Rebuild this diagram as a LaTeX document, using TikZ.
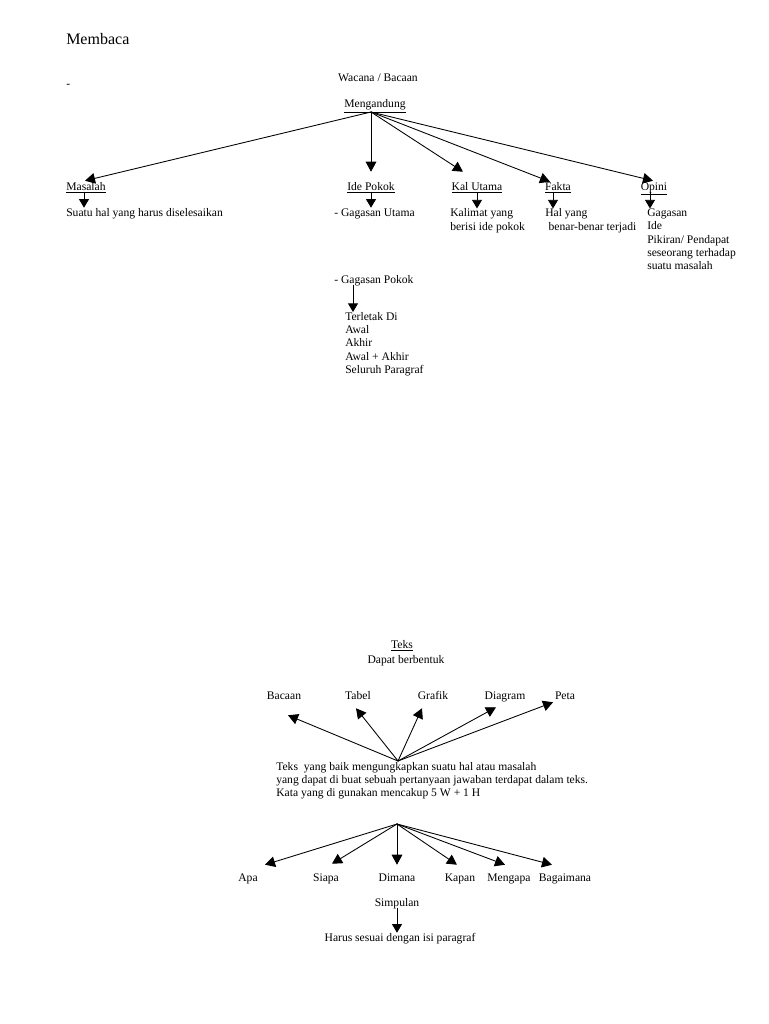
\documentclass[tikz,border=0pt]{standalone}
\usepackage{fontspec}
\setmainfont{Liberation Serif}
\usetikzlibrary{arrows.meta, positioning, calc}

\begin{document}
\begin{tikzpicture}[
    x=0.75pt, y=-0.75pt,
    line cap=round, line join=round,
    teks/.style={inner sep=0pt, font=\fontsize{8.7}{10}\selectfont, text height=6pt, text depth=1.5pt},
    blok/.style={inner sep=0pt, font=\fontsize{8.7}{10}\selectfont, align=left, anchor=north west},
    panah/.style={-{Triangle[length=7.5pt, width=8pt]}, line width=0.65pt},
    panahkecil/.style={-{Triangle[length=6.5pt, width=7.5pt]}, line width=0.65pt}
  ]
    \useasboundingbox (0,0) rectangle (768,1024);

    % Judul
    \node[teks, anchor=west, font=\fontsize{12}{14}\selectfont] (judul) at (66,42) {Membaca};
    \node[teks, anchor=west] (strip) at (66,85) {-};

    % Wacana (atas)
    \node[teks] (wacana) at (378,78) {Wacana / Bacaan};
    \node[teks] (mengandung) at (375,105) {\underline{Mengandung}};
    \coordinate (pusat) at (371,112);

    \node[teks] (masalah) at (86,187) {\underline{Masalah}};
    \node[teks] (idepokok) at (371,187) {\underline{Ide Pokok}};
    \node[teks] (kalutama) at (477,187) {\underline{Kal Utama}};
    \node[teks] (fakta) at (558,187) {\underline{Fakta}};
    \node[teks] (opini) at (654,187) {\underline{Opini}};

    \draw[panah] (pusat) -- ($(masalah.north)+(-1,-1)$);
    \draw[panah] (pusat) -- ($(idepokok.north)+(0,-10)$);
    \draw[panah] (pusat) -- ($(kalutama.north)+(-14,-10)$);
    \draw[panah] (pusat) -- ($(fakta.north)+(-8,-0)$);
    \draw[panah] (pusat) -- ($(opini.north)+(-1,-1)$);

    % Keterangan tiap cabang
    \node[teks, anchor=west] (suatuhal) at (66,213) {Suatu hal yang harus diselesaikan};
    \node[teks, anchor=west] (gagasanutama) at (334,213) {- Gagasan Utama};
    \node[blok] (kalimat) at (450,208.5) {Kalimat yang\\berisi ide pokok};
    \node[blok] (halyang) at (545,208.5) {Hal yang\\\hspace{2.5pt}benar-benar terjadi};
    \node[blok] (gagasan) at (647,208.5) {Gagasan\\Ide\\Pikiran/ Pendapat\\seseorang terhadap\\suatu masalah};

    \draw[panahkecil] (masalah.south -| 84,0) -- (suatuhal.north -| 84,0);
    \draw[panahkecil] (idepokok.south) -- (idepokok.south |- gagasanutama.north);
    \draw[panahkecil] (kalutama.south) -- (kalutama.south |- kalimat.north);
    \draw[panahkecil] ($(fakta.south)+(-5,0)$) -- ($(fakta.south |- halyang.north)+(-5,0)$);
    \draw[panahkecil] ($(opini.south)+(-4,0)$) -- ($(opini.south |- gagasan.north)+(-4,0)$);

    % Gagasan pokok
    \node[teks, anchor=west] (gagasanpokok) at (334,280) {- Gagasan Pokok};
    \node[blok] (letak) at (345,312) {Terletak Di\\Awal\\Akhir\\Awal + Akhir\\Seluruh Paragraf};
    \draw[panahkecil] (gagasanpokok.south -| 353,0) -- (letak.north -| 353,0);

    % Teks (bawah)
    \node[teks] (judulteks) at (402,645) {\underline{Teks}};
    \node[teks] (berbentuk) at (406,660) {Dapat berbentuk};

    \node[teks] (bacaan) at (284,696) {Bacaan};
    \node[teks] (tabel) at (358,696) {Tabel};
    \node[teks] (grafik) at (433,696) {Grafik};
    \node[teks] (diagram) at (505,696) {Diagram};
    \node[teks] (peta) at (565,696) {Peta};

    \node[blok] (uraian) at (276,762) {Teks\ \ yang baik mengungkapkan suatu hal atau masalah\\yang dapat di buat sebuah pertanyaan jawaban terdapat dalam teks.\\Kata yang di gunakan mencakup 5 W + 1 H};
    \coordinate (pusatteks) at (398,761);

    \draw[panah] (pusatteks) -- ($(bacaan.south)+(4,14)$);
    \draw[panah] (pusatteks) -- ($(tabel.south)+(-2,7)$);
    \draw[panah] (pusatteks) -- ($(grafik.south)+(-11,7)$);
    \draw[panah] (pusatteks) -- ($(diagram.south)+(-9,6)$);
    \draw[panah] (pusatteks) -- ($(peta.south)+(-12,1)$);

    % Pertanyaan 5W + 1H
    \coordinate (pusattanya) at (397,824);
    \node[teks] (apa) at (248,878) {Apa};
    \node[teks] (siapa) at (326,878) {Siapa};
    \node[teks] (dimana) at (397,878) {Dimana};
    \node[teks] (kapan) at (460,878) {Kapan};
    \node[teks] (mengapa) at (509,878) {Mengapa};
    \node[teks] (bagaimana) at (565,878) {Bagaimana};

    \draw[panah] (pusattanya) -- ($(apa.north)+(17,-8)$);
    \draw[panah] (pusattanya) -- ($(siapa.north)+(6,-9)$);
    \draw[panah] (pusattanya) -- ($(dimana.north)+(0,-8)$);
    \draw[panah] (pusattanya) -- ($(kapan.north)+(-3,-8)$);
    \draw[panah] (pusattanya) -- ($(mengapa.north)+(-4,-8)$);
    \draw[panah] (pusattanya) -- ($(bagaimana.north)+(-13,-8)$);

    % Simpulan
    \node[teks] (simpulan) at (397,903) {Simpulan};
    \node[teks] (harus) at (400,938) {Harus sesuai dengan isi paragraf};
    \draw[panahkecil] (simpulan.south) -- (simpulan.south |- harus.north);

  \end{tikzpicture}
\end{document}
